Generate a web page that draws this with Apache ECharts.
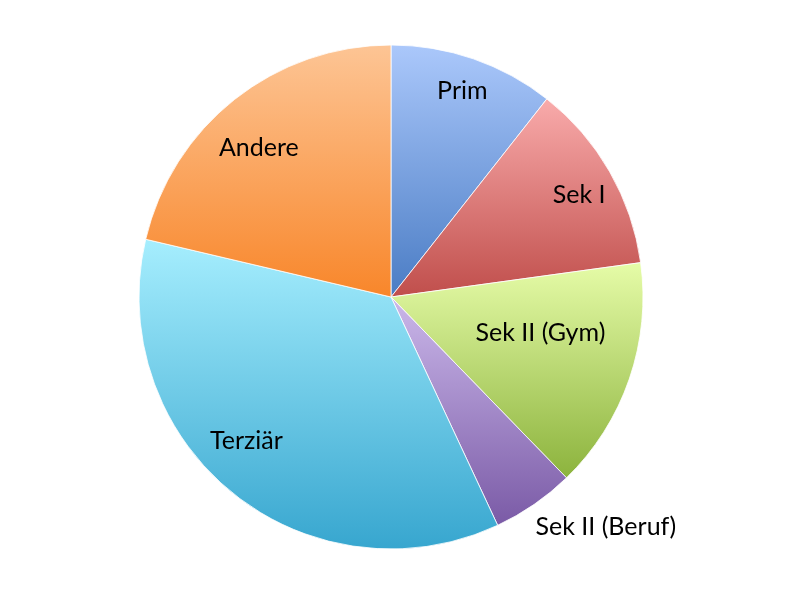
<!DOCTYPE html>
<html>
<head>
<meta charset="utf-8">
<script src="https://cdn.jsdelivr.net/npm/echarts@6/dist/echarts.min.js"></script>
<style>html,body{margin:0;padding:0;background:#fff}#c{width:800px;height:600px}</style>
</head>
<body>
<div id="c"></div>
<script>
var categories = ['Prim', 'Sek I', 'Sek II (Gym)', 'Sek II (Beruf)', 'Terziär', 'Andere'];
var values = [10.6, 12.2, 14.9, 5.3, 35.6, 21.3];

var CX = 391, CY = 297, R = 252;
var topColors = ['#abc8fb', '#f9abab', '#e6fca8', '#cbb8ea', '#a6eefe', '#fdc595'];
var bottomColors = ['#4a7cc4', '#c04e4b', '#8cb33d', '#7a5aa6', '#37a6cf', '#f8862a'];
var labelRadius = [0.865, 0.85, 0.61, 1.25, 0.81, 0.79];
var labelAngleOffset = [0, 1.3, -5.4, -8.4, 6, -3.2];

var chart = echarts.init(document.getElementById('c'));
var data = categories.map(function (n, i) {
  return {
    name: n,
    value: values[i],
    itemStyle: {
      color: new echarts.graphic.LinearGradient(0, 0, 0, 1, [
        { offset: 0, color: topColors[i] },
        { offset: 1, color: bottomColors[i] }
      ])
    }
  };
});
chart.setOption({
  animation: false,
  series: [{
    type: 'pie',
    center: [CX, CY],
    radius: [0, R],
    startAngle: 90,
    clockwise: true,
    data: data,
    itemStyle: { borderColor: 'rgba(255,255,255,0.8)', borderWidth: 1 },
    label: {
      show: true,
      position: 'inside',
      formatter: '{b}',
      fontFamily: 'Lato',
      fontSize: 25,
      color: '#000'
    },
    labelLine: { show: false },
    emphasis: { disabled: true },
    labelLayout: function (p) {
      var i = p.dataIndex;
      var r = p.labelRect;
      var lx = r.x + r.width / 2, ly = r.y + r.height / 2;
      var a = Math.atan2(lx - CX, CY - ly) + labelAngleOffset[i] * Math.PI / 180;
      var tx = CX + R * labelRadius[i] * Math.sin(a);
      var ty = CY - R * labelRadius[i] * Math.cos(a);
      return { dx: tx - lx, dy: ty - ly };
    }
  }]
});
</script>
</body>
</html>
